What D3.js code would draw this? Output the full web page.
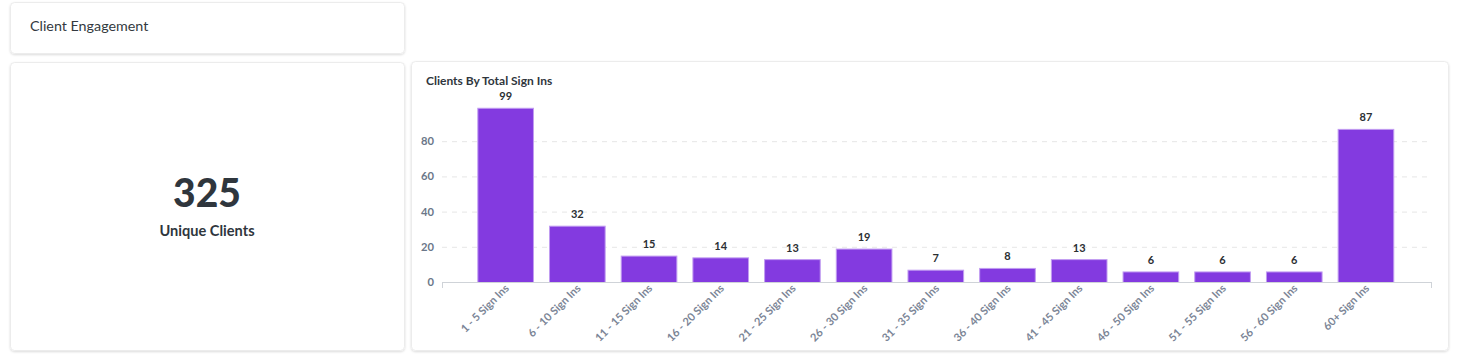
<!DOCTYPE html>
<html>
<head>
<meta charset="utf-8">
<script src="https://cdn.jsdelivr.net/npm/d3@7"></script>
<style>
  html, body { margin: 0; padding: 0; background: #ffffff; }
  svg { display: block; font-family: Lato, "Open Sans", sans-serif; }
</style>
</head>
<body>
<svg id="chart" width="1460" height="357"></svg>
<script>
const categories = ["1 - 5 Sign Ins", "6 - 10 Sign Ins", "11 - 15 Sign Ins", "16 - 20 Sign Ins",
  "21 - 25 Sign Ins", "26 - 30 Sign Ins", "31 - 35 Sign Ins", "36 - 40 Sign Ins",
  "41 - 45 Sign Ins", "46 - 50 Sign Ins", "51 - 55 Sign Ins", "56 - 60 Sign Ins", "60+ Sign Ins"];
const values = [99, 32, 15, 14, 13, 19, 7, 8, 13, 6, 6, 6, 87];
const yTicks = [0, 20, 40, 60, 80];
const pageTitle = "Client Engagement";
const chartTitle = "Clients By Total Sign Ins";
const kpiValue = "325";
const kpiLabel = "Unique Clients";

const svg = d3.select("#chart");
const defs = svg.append("defs");
const f = defs.append("filter").attr("id", "sh").attr("x", "-5%").attr("y", "-5%").attr("width", "110%").attr("height", "115%");
f.append("feDropShadow").attr("dx", 0).attr("dy", 1).attr("stdDeviation", 1.2).attr("flood-color", "#000").attr("flood-opacity", 0.14);

function card(x, y, w, h) {
  svg.append("rect").attr("x", x).attr("y", y).attr("width", w).attr("height", h)
    .attr("rx", 4).attr("fill", "#fff").attr("stroke", "#ececec").attr("stroke-width", 1)
    .attr("filter", "url(#sh)");
}
card(10.5, 2.5, 394, 51);
card(10.5, 62.5, 394, 288);
card(411.5, 61.5, 1037, 289);

svg.append("text").attr("x", 30).attr("y", 31).attr("font-size", 14.3).attr("fill", "#333a40")
  .text(pageTitle);

svg.append("text").attr("x", 207).attr("y", 207).attr("text-anchor", "middle")
  .attr("font-size", 39).attr("font-weight", 900).attr("fill", "#2f363d").text(kpiValue);
svg.append("text").attr("x", 207).attr("y", 235.5).attr("text-anchor", "middle")
  .attr("font-size", 14.6).attr("font-weight", 700).attr("fill", "#2f363d").text(kpiLabel);

svg.append("text").attr("x", 426).attr("y", 85).attr("font-size", 12).attr("font-weight", 700)
  .attr("fill", "#2f363d").text(chartTitle);

const y = d3.scaleLinear().domain([0, 100]).range([282, 106]);
const x = d3.scaleBand().domain(categories).range([469.8, 1401.8]).paddingInner(0.21).paddingOuter(0.105);
const axisLeft = 442, axisRight = 1432;

// grid
svg.append("g").selectAll("line").data(yTicks.filter(d => d > 0)).join("line")
  .attr("x1", axisLeft).attr("x2", axisRight)
  .attr("y1", d => y(d) + 0.5).attr("y2", d => y(d) + 0.5)
  .attr("stroke", "#e6e6e6").attr("stroke-dasharray", "5,5");

// y labels
svg.append("g").selectAll("text").data(yTicks).join("text")
  .attr("x", 434).attr("y", d => y(d) + 4).attr("text-anchor", "end")
  .attr("font-size", 11.2).attr("font-weight", 700).attr("fill", "#6b7789").text(d => d);

// bars
svg.append("g").selectAll("rect").data(values).join("rect")
  .attr("x", (d, i) => x(categories[i]) + 0.5).attr("y", d => y(d) + 0.5)
  .attr("width", x.bandwidth() - 1).attr("height", d => y(0) - y(d))
  .attr("fill", "#833ae0").attr("stroke", "#c19cf1").attr("stroke-width", 1);

// value labels
svg.append("g").selectAll("text").data(values).join("text")
  .attr("x", (d, i) => x(categories[i]) + x.bandwidth() / 2).attr("y", d => y(d) - 7.5)
  .attr("text-anchor", "middle").attr("font-size", 11).attr("font-weight", 700)
  .attr("fill", "#2b2f33").text(d => d);

// x axis line
const ax = svg.append("g");
ax.append("line").attr("x1", axisLeft).attr("x2", axisRight).attr("y1", 282.5).attr("y2", 282.5)
  .attr("stroke", "#cfd3d8");
ax.append("line").attr("x1", axisLeft + 0.5).attr("x2", axisLeft + 0.5).attr("y1", 282).attr("y2", 288).attr("stroke", "#cfd3d8");
ax.append("line").attr("x1", axisRight - 0.5).attr("x2", axisRight - 0.5).attr("y1", 282).attr("y2", 288).attr("stroke", "#cfd3d8");

// x labels
svg.append("g").selectAll("text").data(categories).join("text")
  .attr("transform", d => `translate(${x(d) + x.bandwidth() / 2 + 4},${289}) rotate(-45)`)
  .attr("text-anchor", "end").attr("font-size", 11).attr("font-weight", 700)
  .attr("fill", "#7b8596").text(d => d);
</script>
</body>
</html>
